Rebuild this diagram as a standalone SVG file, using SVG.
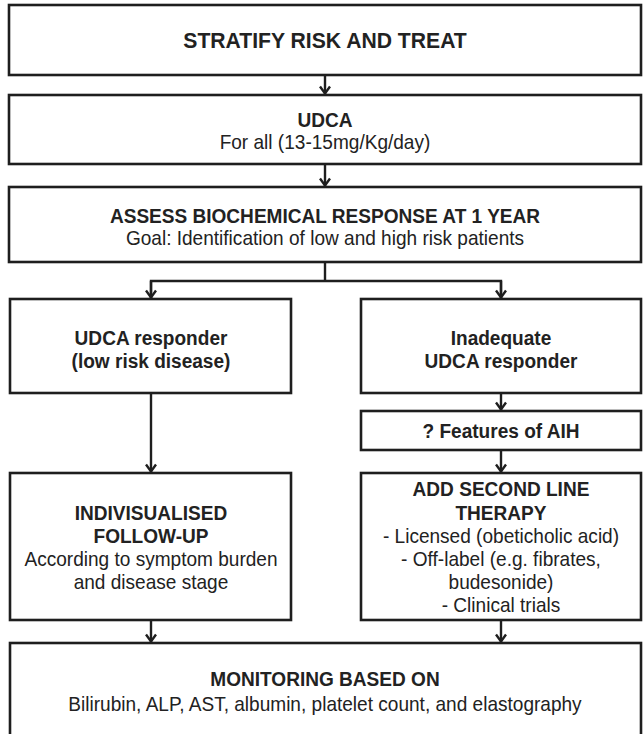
<svg xmlns="http://www.w3.org/2000/svg" width="643" height="734" viewBox="0 0 643 734">
<style>
.box{fill:#fff;stroke:#1e1e1e;stroke-width:2.6}
.t{font-family:"Liberation Sans",Arial,sans-serif;font-size:20.5px;fill:#222;text-anchor:middle;transform-box:fill-box;transform-origin:center;transform:scaleX(0.93)}
.b{font-weight:bold}
.big{font-size:22.5px;transform:scaleX(0.94)}
.c{fill:none;stroke:#1e1e1e;stroke-width:2.4}
</style>
<defs>
<marker id="ah" markerUnits="userSpaceOnUse" markerWidth="12" markerHeight="14" viewBox="-9 -7 11 14" refX="0" refY="0" orient="auto">
<path d="M-7.5,-5 L-0.5,0 L-7.5,5" fill="none" stroke="#1e1e1e" stroke-width="2.4"/>
</marker>
</defs>
<rect width="643" height="734" fill="#fff"/>
<g id="connectors">
<line class="c" x1="325" y1="75" x2="325" y2="94" marker-end="url(#ah)"/>
<line class="c" x1="325" y1="164" x2="325" y2="186" marker-end="url(#ah)"/>
<polyline class="c" points="325,262 325,281"/>
<polyline class="c" points="151,298 151,281 501,281 501,298"/>
<line class="c" x1="151" y1="281" x2="151" y2="298" marker-end="url(#ah)"/>
<line class="c" x1="501" y1="281" x2="501" y2="298" marker-end="url(#ah)"/>
<line class="c" x1="151" y1="393" x2="151" y2="472" marker-end="url(#ah)"/>
<line class="c" x1="501" y1="393" x2="501" y2="410" marker-end="url(#ah)"/>
<line class="c" x1="501" y1="450" x2="501" y2="472" marker-end="url(#ah)"/>
<line class="c" x1="151" y1="620" x2="151" y2="642" marker-end="url(#ah)"/>
<line class="c" x1="501" y1="620" x2="501" y2="642" marker-end="url(#ah)"/>
</g>
<g id="n1"><rect class="box" x="9" y="5" width="632" height="70"/>
<text class="t b big" x="325" y="48">STRATIFY RISK AND TREAT</text></g>
<g id="n2"><rect class="box" x="9" y="95" width="632" height="69"/>
<text class="t b" x="325" y="127">UDCA</text>
<text class="t" x="325" y="149">For all (13-15mg/Kg/day)</text></g>
<g id="n3"><rect class="box" x="9" y="187" width="632" height="75"/>
<text class="t b" x="325" y="223">ASSESS BIOCHEMICAL RESPONSE AT 1 YEAR</text>
<text class="t" x="325" y="245">Goal: Identification of low and high risk patients</text></g>
<g id="n4"><rect class="box" x="10" y="299" width="281" height="94"/>
<text class="t b" x="151" y="345">UDCA responder</text>
<text class="t b" x="151" y="368">(low risk disease)</text></g>
<g id="n5"><rect class="box" x="361" y="299" width="280" height="94"/>
<text class="t b" x="501" y="345">Inadequate</text>
<text class="t b" x="501" y="368">UDCA responder</text></g>
<g id="n6"><rect class="box" x="361" y="411" width="280" height="39"/>
<text class="t b" x="501" y="438">? Features of AIH</text></g>
<g id="n7"><rect class="box" x="10" y="473" width="281" height="147"/>
<text class="t b" x="151" y="520">INDIVISUALISED</text>
<text class="t b" x="151" y="543">FOLLOW-UP</text>
<text class="t" x="151" y="566">According to symptom burden</text>
<text class="t" x="151" y="589">and disease stage</text></g>
<g id="n8"><rect class="box" x="361" y="473" width="280" height="147"/>
<text class="t b" x="501" y="496">ADD SECOND LINE</text>
<text class="t b" x="501" y="520">THERAPY</text>
<text class="t" x="501" y="543">- Licensed (obeticholic acid)</text>
<text class="t" x="501" y="566">- Off-label (e.g. fibrates,</text>
<text class="t" x="501" y="589">budesonide)</text>
<text class="t" x="501" y="612">- Clinical trials</text></g>
<g id="n9"><rect class="box" x="10" y="643" width="631" height="100"/>
<text class="t b" x="325" y="686">MONITORING BASED ON</text>
<text class="t" x="325" y="711">Bilirubin, ALP, AST, albumin, platelet count, and elastography</text></g>
</svg>
